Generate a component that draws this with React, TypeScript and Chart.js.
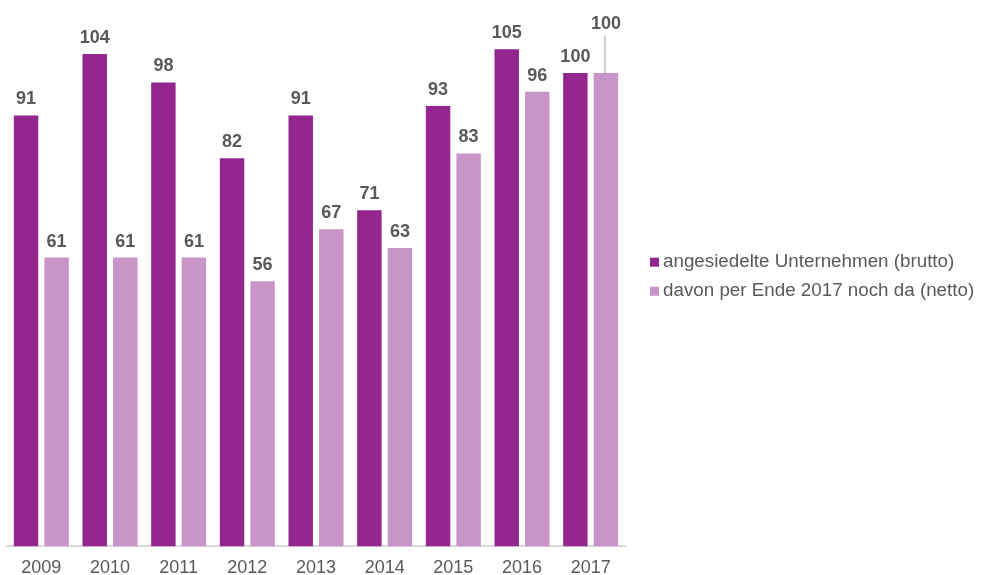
import React, { useEffect, useRef } from 'react';
import { Chart, registerables } from 'chart.js';

Chart.register(...registerables);

const years = ['2009', '2010', '2011', '2012', '2013', '2014', '2015', '2016', '2017'];
const brutto = [91, 104, 98, 82, 91, 71, 93, 105, 100];
const netto = [61, 61, 61, 56, 67, 63, 83, 96, 100];
const seriesNames = ['angesiedelte Unternehmen (brutto)', 'davon per Ende 2017 noch da (netto)'];
const seriesColors = ['#93268F', '#C994C7'];

const FONT = '"Liberation Sans", Arial, Helvetica, sans-serif';
const TEXT = '#595959';

const valueLabels = {
  id: 'valueLabels',
  afterDatasetsDraw(chart: any) {
    const ctx = chart.ctx;
    ctx.save();
    ctx.font = `bold 18px ${FONT}`;
    ctx.fillStyle = TEXT;
    ctx.textAlign = 'center';
    ctx.textBaseline = 'middle';
    const m0 = chart.getDatasetMeta(0);
    const m1 = chart.getDatasetMeta(1);
    const off = 16;
    m0.data.forEach((el: any, i: number) => {
      ctx.fillText(String(chart.data.datasets[0].data[i]), el.x, el.y - off);
    });
    m1.data.forEach((el: any, i: number) => {
      let y = el.y - off;
      const other = m0.data[i];
      if (other && Math.abs(other.y - el.y) < 18) {
        const ly = el.y - 49;
        ctx.strokeStyle = '#BFBFBF';
        ctx.lineWidth = 1.5;
        ctx.beginPath();
        ctx.moveTo(el.x - 1, ly + 12);
        ctx.lineTo(el.x - 1, el.y);
        ctx.stroke();
        y = ly;
      }
      ctx.fillText(String(chart.data.datasets[1].data[i]), el.x, y);
    });
    ctx.restore();
  },
};

const sideLegend = {
  id: 'sideLegend',
  afterDraw(chart: any) {
    const { ctx, chartArea } = chart;
    const x0 = chartArea.right + 25;
    const mid = (chartArea.top + chartArea.bottom) / 2;
    const ys = [mid - 11, mid + 18];
    ctx.save();
    ctx.font = `18.8px ${FONT}`;
    ctx.textAlign = 'left';
    ctx.textBaseline = 'middle';
    chart.data.datasets.forEach((ds: any, i: number) => {
      ctx.fillStyle = ds.backgroundColor;
      ctx.fillRect(x0, ys[i] - 4.5, 9, 9);
      ctx.fillStyle = TEXT;
      ctx.fillText(ds.label, x0 + 13, ys[i]);
    });
    ctx.restore();
  },
};

export default function App() {
  const ref = useRef<HTMLCanvasElement>(null);
  useEffect(() => {
    if (!ref.current) return;
    const chart = new Chart(ref.current, {
      type: 'bar',
      data: {
        labels: years,
        datasets: [
          { label: seriesNames[0], data: brutto, backgroundColor: seriesColors[0], categoryPercentage: 0.89, barPercentage: 0.8 },
          { label: seriesNames[1], data: netto, backgroundColor: seriesColors[1], categoryPercentage: 0.89, barPercentage: 0.8 },
        ],
      },
      options: {
        responsive: false,
        animation: false,
        layout: { padding: { left: 7, right: 364, top: 0, bottom: 0 } },
        plugins: { legend: { display: false }, tooltip: { enabled: false } },
        scales: {
          x: {
            grid: { display: false, drawTicks: false },
            border: { display: true, color: '#D9D9D9', width: 2 },
            ticks: { color: TEXT, font: { size: 18, family: FONT }, padding: 11 },
          },
          y: { display: false, min: 0, max: 115.4 },
        },
      },
      plugins: [valueLabels, sideLegend],
    });
    return () => chart.destroy();
  }, []);
  return (
    <div style={{ position: 'fixed', left: 0, top: 0, width: 989, height: 575, overflow: 'hidden', background: '#fff' }}>
      <canvas ref={ref} width={989} height={590} style={{ display: 'block' }} />
    </div>
  );
}
